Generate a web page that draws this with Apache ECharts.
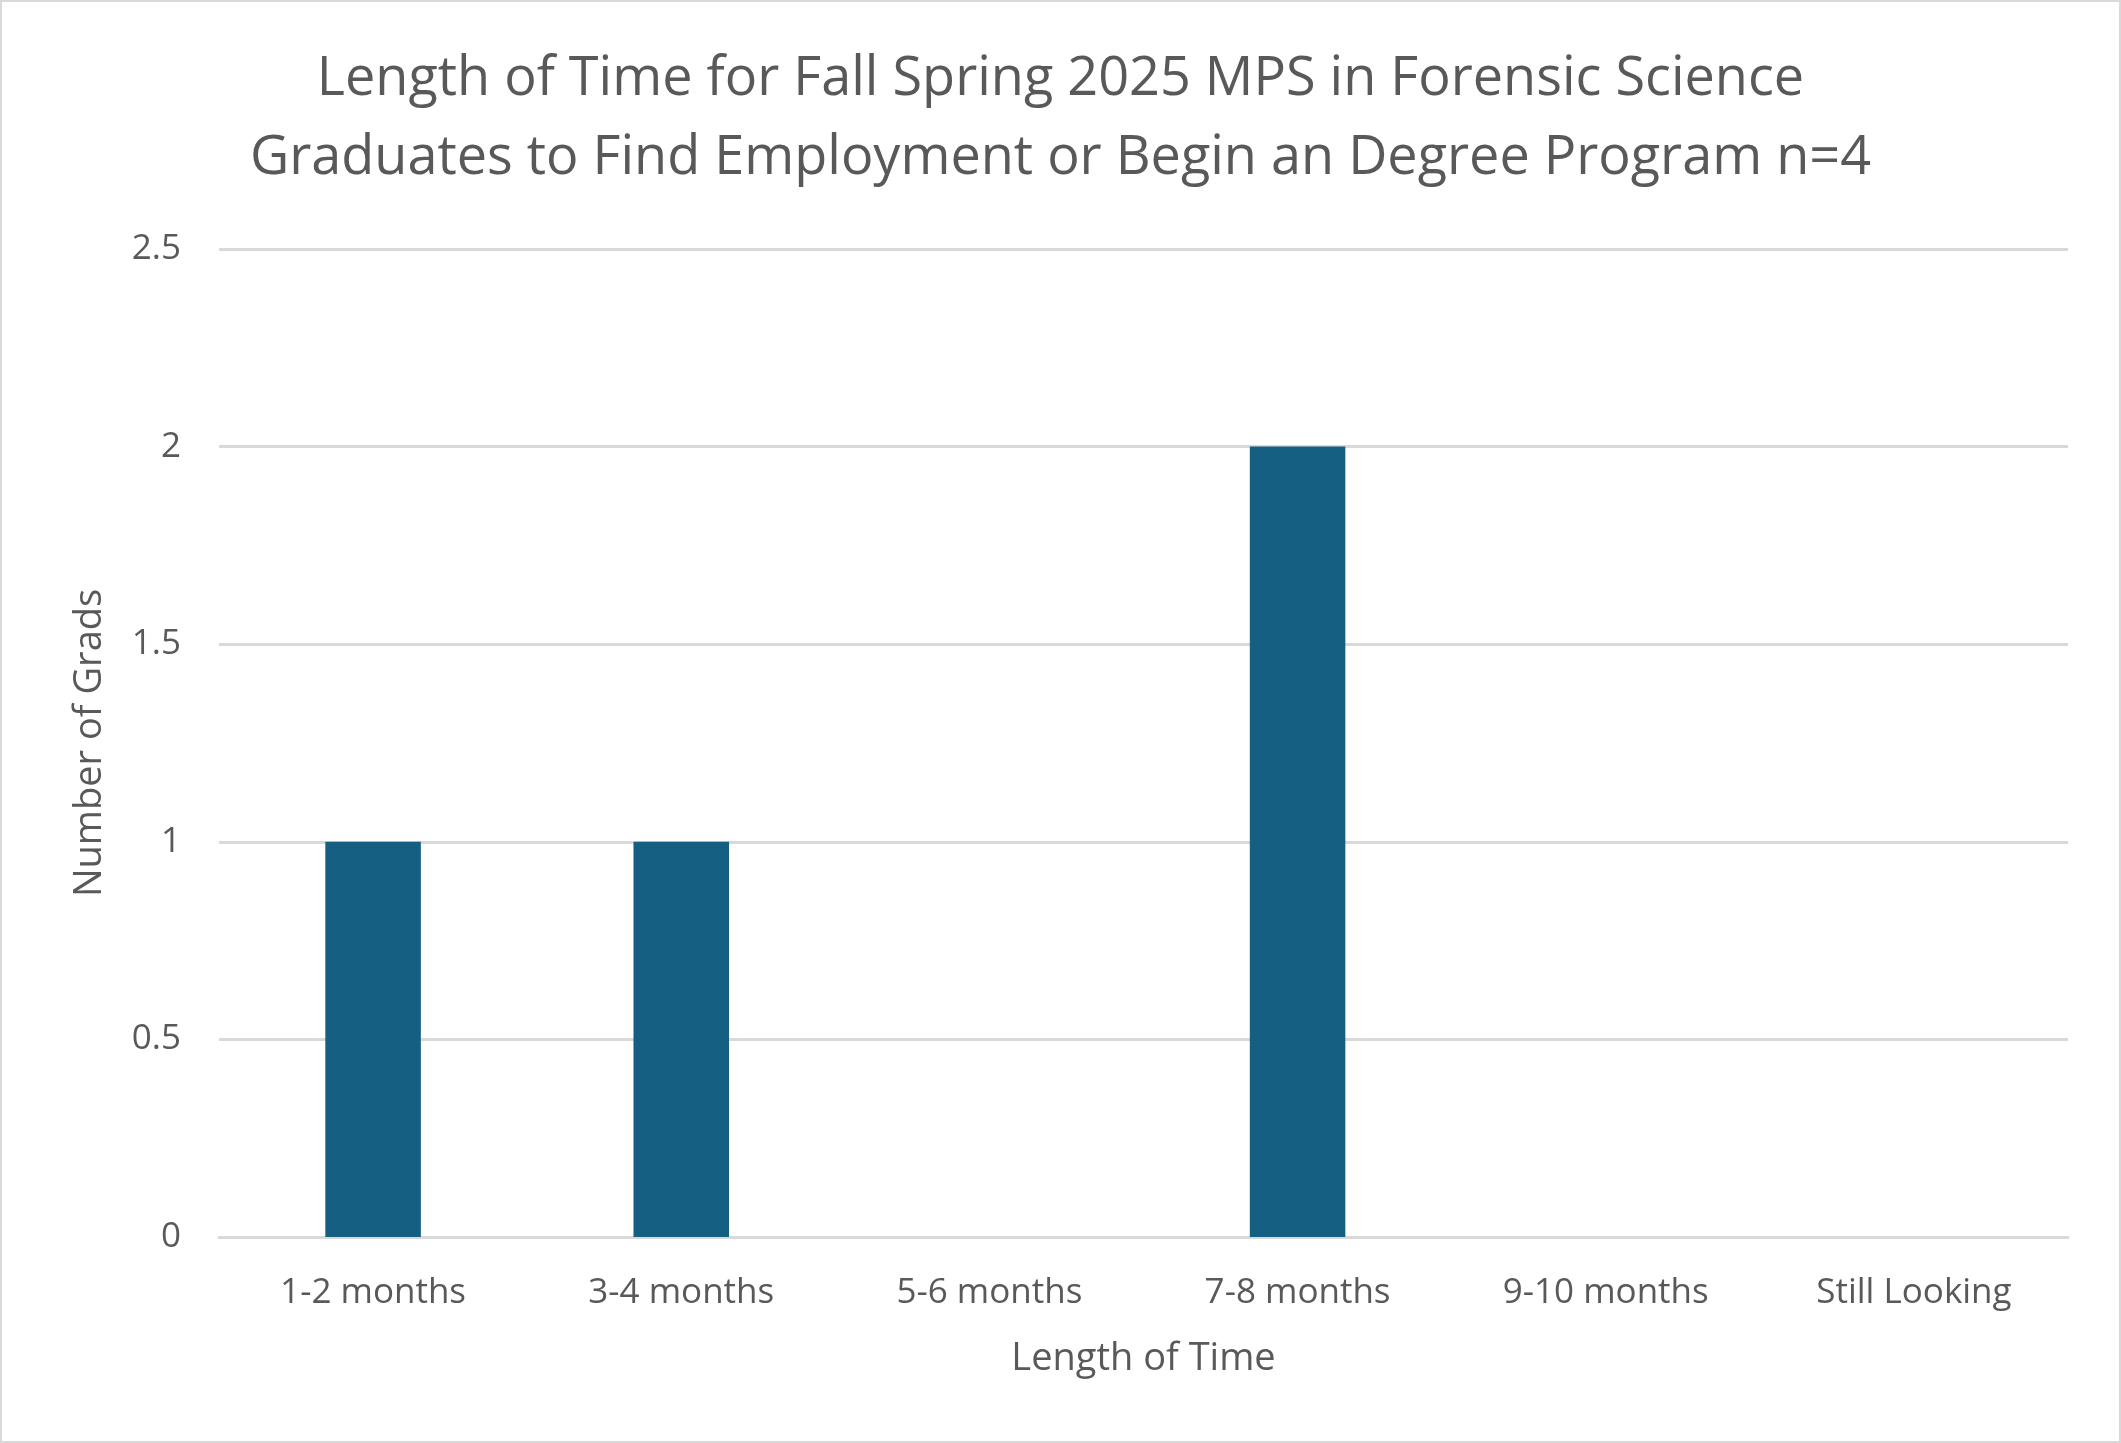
<!DOCTYPE html>
<html>
<head>
<meta charset="utf-8">
<script src="https://cdn.jsdelivr.net/npm/echarts@6/dist/echarts.min.js"></script>
<style>
  html, body { margin: 0; padding: 0; background: #fff; }
  #chart { width: 2121px; height: 1443px; box-sizing: border-box; border: 2px solid #d9d9d9; }
</style>
</head>
<body>
<div id="chart"></div>
<script>
// chart data
var categories = ['1-2 months', '3-4 months', '5-6 months', '7-8 months', '9-10 months', 'Still Looking'];
var grads = [1, 1, 0, 2, 0, 0];
var titleLines = [
    'Length of Time for Fall Spring 2025 MPS in Forensic Science',
    'Graduates to Find Employment or Begin an Degree Program n=4'
];

var textColor = '#595959';
var fontFamily = '"Open Sans", "Noto Sans", sans-serif';

var chart = echarts.init(document.getElementById('chart'));
chart.setOption({
    backgroundColor: '#ffffff',
    title: {
        text: titleLines.join('\n'),
        left: 'center',
        top: 33,
        textStyle: {
            color: textColor, fontFamily: fontFamily,
            fontSize: 54, fontWeight: 'normal', lineHeight: 79
        }
    },
    grid: {left: 217, right: 51, top: 247, bottom: 204},
    xAxis: {
        type: 'category',
        data: categories,
        name: 'Length of Time',
        nameLocation: 'middle',
        nameGap: 103,
        nameTextStyle: {color: textColor, fontFamily: fontFamily, fontSize: 38},
        axisLine: {show: true, lineStyle: {color: '#d9d9d9', width: 3}},
        axisTick: {show: false},
        axisLabel: {color: textColor, fontFamily: fontFamily, fontSize: 35, margin: 39}
    },
    yAxis: {
        type: 'value',
        min: 0,
        max: 2.5,
        interval: 0.5,
        name: 'Number of Grads',
        nameLocation: 'middle',
        nameRotate: 90,
        nameGap: 110,
        nameTextStyle: {color: textColor, fontFamily: fontFamily, fontSize: 38},
        axisLine: {show: false},
        axisTick: {show: false},
        axisLabel: {color: textColor, fontFamily: fontFamily, fontSize: 35, margin: 38},
        splitLine: {lineStyle: {color: '#d9d9d9', width: 3}}
    },
    series: [{
        name: 'Number of Grads',
        type: 'bar',
        data: grads,
        barWidth: '31%',
        itemStyle: {color: '#156082'}
    }]
});
</script>
</body>
</html>
